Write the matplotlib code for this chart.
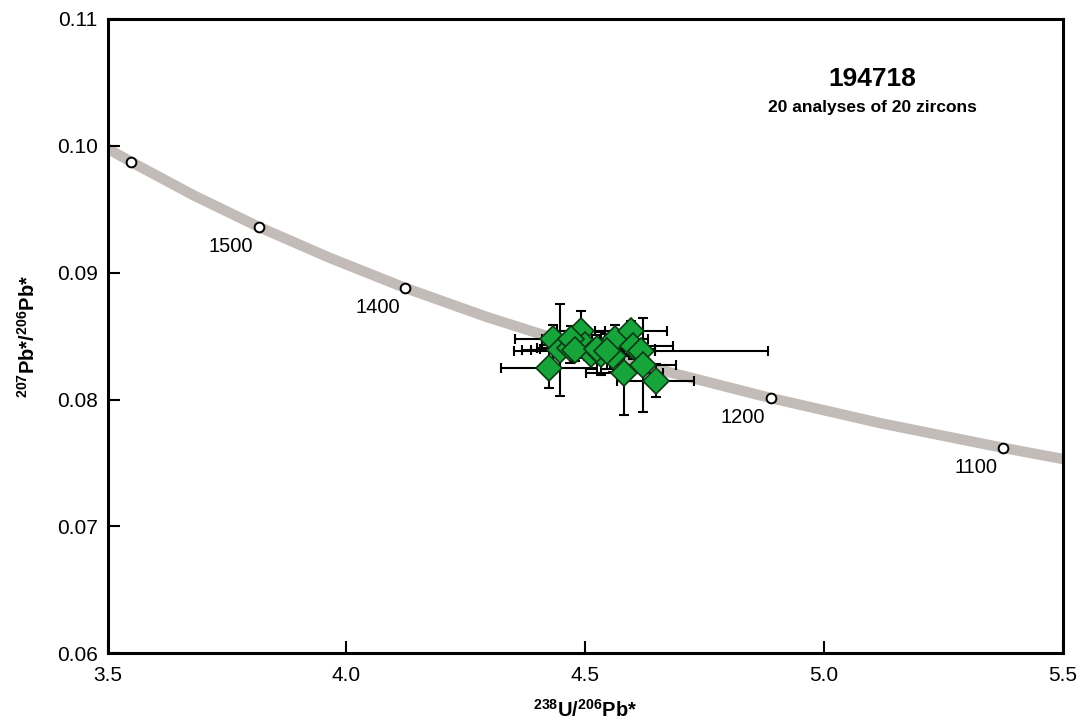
import numpy as np
import matplotlib
matplotlib.use("Agg")
from matplotlib import pyplot as plt

plt.rcParams["font.family"] = ["Liberation Sans", "DejaVu Sans"]
plt.rcParams["mathtext.fontset"] = "custom"
plt.rcParams["mathtext.rm"] = "Liberation Sans"
plt.rcParams["mathtext.bf"] = "Liberation Sans:bold"

# concordia curve points (238U/206Pb, 207Pb/206Pb)
curve_x = [3.500, 3.550, 3.679, 3.817, 3.965, 4.123, 4.293, 4.476, 4.673,
           4.888, 5.120, 5.375, 5.500]
curve_y = [0.09979, 0.09872, 0.09612, 0.09360, 0.09117, 0.08880, 0.08652,
           0.08433, 0.08218, 0.08012, 0.07812, 0.07619, 0.07531]

# age markers (Ma)
age_ma = [1600, 1500, 1400, 1300, 1200, 1100]
age_x = [3.550, 3.817, 4.123, 4.476, 4.888, 5.375]
age_y = [0.09872, 0.09360, 0.08880, 0.08433, 0.08012, 0.07619]
age_labelled = [False, True, True, False, True, True]

# zircon analyses
u_pb = [4.433, 4.491, 4.446, 4.468, 4.499, 4.512, 4.532, 4.557, 4.562, 4.595,
        4.600, 4.617, 4.620, 4.582, 4.647, 4.424, 4.470, 4.478, 4.525, 4.545]
pb_pb = [0.0848, 0.0854, 0.0839, 0.0841, 0.0843, 0.0836, 0.0836, 0.0834,
         0.0848, 0.0854, 0.0842, 0.0838, 0.0827, 0.0821, 0.0815, 0.0825,
         0.0848, 0.0839, 0.0840, 0.0838]
u_pb_err = [0.080, 0.050, 0.060, 0.070, 0.090, 0.080, 0.090, 0.060, 0.070,
            0.075, 0.083, 0.266, 0.069, 0.080, 0.080, 0.100, 0.060, 0.110,
            0.120, 0.100]
pb_pb_err = [0.0011, 0.0016, 0.0036, 0.0012, 0.0010, 0.0012, 0.0017, 0.0012,
             0.0011, 0.0008, 0.0010, 0.0010, 0.0037, 0.0033, 0.0013, 0.0016,
             0.0010, 0.0009, 0.0011, 0.0014]

fig = plt.figure(figsize=(10.84, 7.24), dpi=100)
ax = fig.add_axes([0.0992, 0.0977, 0.8815, 0.8761])

# concordia
ax.plot(curve_x, curve_y, color="#c2bbb7", lw=7.5, solid_capstyle="butt",
        solid_joinstyle="round", zorder=1)
ax.plot(age_x, age_y, "o", ms=7, mfc="white", mec="black", mew=1.4, zorder=2)
for a, x, y, lab in zip(age_ma, age_x, age_y, age_labelled):
    if lab:
        ax.annotate(str(a), (x, y), xytext=(-20, -14), textcoords="offset points",
                    ha="center", va="center", fontsize=14.5)

# analyses
ax.errorbar(u_pb, pb_pb, xerr=u_pb_err, yerr=pb_pb_err, fmt="none",
            ecolor="black", elinewidth=1.5, capsize=3.5, capthick=1.5, zorder=3)
ax.plot(u_pb, pb_pb, "D", ms=13, mfc="#17a43b", mec="#0c3a14", mew=1.2,
        ls="none", zorder=4)

ax.text(0.80, 0.905, "194718", transform=ax.transAxes, ha="center", va="center",
        fontsize=19, fontweight="bold")
ax.text(0.80, 0.86, "20 analyses of 20 zircons", transform=ax.transAxes,
        ha="center", va="center", fontsize=12.5, fontweight="bold")

ax.set_xlim(3.5, 5.5)
ax.set_ylim(0.06, 0.11)
ax.set_xticks([3.5, 4.0, 4.5, 5.0, 5.5])
ax.set_xticklabels(["3.5", "4.0", "4.5", "5.0", "5.5"])
ax.set_yticks([0.06, 0.07, 0.08, 0.09, 0.10, 0.11])
ax.set_yticklabels(["0.06", "0.07", "0.08", "0.09", "0.10", "0.11"])
ax.tick_params(direction="in", length=8.5, width=1.5, labelsize=15)
ax.tick_params(axis="x", pad=9)
ax.tick_params(axis="y", pad=7)
for s in ax.spines.values():
    s.set_linewidth(2.2)

ax.set_xlabel(r"$^{\mathbf{238}}$U/$^{\mathbf{206}}$Pb*", fontsize=14.5,
              fontweight="bold", labelpad=10)
ax.set_ylabel(r"$^{\mathbf{207}}$Pb*/$^{\mathbf{206}}$Pb*", fontsize=14.5,
              fontweight="bold", labelpad=13)

fig.savefig("out.png", dpi=100)
